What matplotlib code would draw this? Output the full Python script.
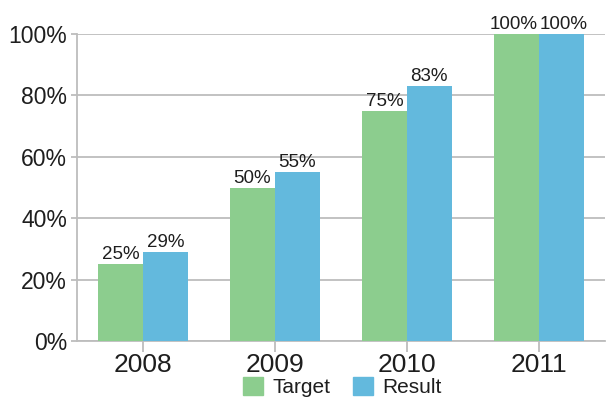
import matplotlib
matplotlib.use("Agg")
import matplotlib.pyplot as plt
import numpy as np
from matplotlib.patches import Patch
from matplotlib.transforms import offset_copy

categories = ["2008", "2009", "2010", "2011"]
target = [25, 50, 75, 100]
result = [29, 55, 83, 100]
yticks = [0, 20, 40, 60, 80, 100]

green = "#8ccd8e"
blue = "#63b9dd"
grid_c = "#bdbdbd"
text_c = "#1e1e1e"

plt.rcParams['font.family'] = ['Liberation Sans', 'DejaVu Sans']

fig = plt.figure(figsize=(6.06, 4.0), dpi=100)
ax = fig.add_axes([0.127, 0.1475, 0.871, 0.7675])

x = np.arange(len(categories))
w = 0.34
b1 = ax.bar(x - w/2, target, w, color=green, zorder=3)
b2 = ax.bar(x + w/2, result, w, color=blue, zorder=3)

for bars, vals, side in ((b1, target, -1), (b2, result, 1)):
    for r, v in zip(bars, vals):
        dx = side * 2.5 if v >= 100 else 0
        tr = offset_copy(ax.transData, fig=fig, x=dx, y=1, units="dots")
        ax.text(r.get_x() + r.get_width()/2, v, f"{v}%", ha="center", va="bottom",
                fontsize=13.5, color=text_c, zorder=4, transform=tr)

ax.set_xlim(-0.5, 3.5)
ax.set_ylim(0, 100)
ax.set_yticks(yticks)
ax.set_yticklabels([f"{v}%" for v in yticks], fontsize=16.5, color=text_c)
ax.set_xticks(x)
ax.set_xticklabels(categories, fontsize=19, color=text_c)
ax.yaxis.grid(True, color=grid_c, linewidth=1.3, zorder=0)
for s in ["top", "right"]:
    ax.spines[s].set_visible(False)
for s in ["left", "bottom"]:
    ax.spines[s].set_color(grid_c)
    ax.spines[s].set_linewidth(1.3)
ax.tick_params(axis="y", length=4, color=grid_c, width=1.3, pad=3)
ax.tick_params(axis="x", length=8, color=grid_c, width=1.3, pad=1)

handles = [Patch(color=green, label="Target"), Patch(color=blue, label="Result")]
fig.legend(handles=handles, loc="lower center", bbox_to_anchor=(0.565, -0.04), ncol=2,
           frameon=False, fontsize=15, handlelength=0.95, handleheight=0.95,
           columnspacing=1.1, handletextpad=0.45, labelcolor=text_c)

fig.savefig("out.png", dpi=100)
